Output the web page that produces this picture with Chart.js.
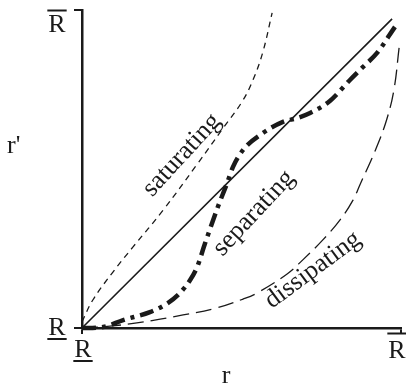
<!DOCTYPE html>
<html>
<head>
<meta charset="utf-8">
<script src="https://cdn.jsdelivr.net/npm/chart.js@4/dist/chart.umd.min.js"></script>
<style>
  html, body { margin: 0; padding: 0; background: #fff; }
  #wrap { width: 406px; height: 385px; }
</style>
</head>
<body>
<div id="wrap"><canvas id="chart" width="406" height="385"></canvas></div>
<script>
// values, 0 = R (lower bound), 1 = R-bar (upper bound)
var diagonalX = [0, 0.972];
var diagonalY = [0, 0.972];

var saturatingX = [0, 0.034, 0.097, 0.160, 0.254, 0.361, 0.442, 0.502, 0.536, 0.567, 0.596];
var saturatingY = [0.02, 0.088, 0.176, 0.255, 0.370, 0.515, 0.628, 0.712, 0.780, 0.868, 0.991];

var separatingX = [0, 0.066, 0.129, 0.213, 0.270, 0.307, 0.339, 0.361, 0.386, 0.426, 0.455, 0.473, 0.505, 0.567, 0.630, 0.674, 0.715, 0.777, 0.840, 0.881, 0.925, 0.981];
var separatingY = [0, 0.003, 0.025, 0.050, 0.079, 0.110, 0.151, 0.192, 0.267, 0.381, 0.456, 0.506, 0.560, 0.613, 0.648, 0.660, 0.676, 0.714, 0.780, 0.821, 0.865, 0.947];

var dissipatingX = [0, 0.088, 0.172, 0.245, 0.317, 0.411, 0.505, 0.549, 0.643, 0.693, 0.755, 0.809, 0.850, 0.871, 0.920, 0.955, 0.978, 0.994];
var dissipatingY = [0, 0.006, 0.016, 0.028, 0.041, 0.060, 0.091, 0.110, 0.170, 0.215, 0.277, 0.340, 0.403, 0.450, 0.560, 0.655, 0.750, 0.881];

var tickValues = [0, 1];
var xTickLabels = ['R', 'R'];   // underlined, overlined
var yTickLabels = ['R', 'R'];   // underlined, overlined
var tickMarks = ['under', 'over'];

var curveNames = ['saturating', 'separating', 'dissipating'];
var curveLabelX = [0.313, 0.539, 0.724];
var curveLabelY = [0.544, 0.361, 0.182];
var curveLabelAngle = [-47.5, -47, -36.5];

var xTitle = 'r';
var yTitle = "r'";

function pts(xs, ys) {
  return xs.map(function(x, i) { return { x: x, y: ys[i] }; });
}

var ink = '#1a1a1a';
var serif = '"Liberation Serif", "DejaVu Serif", serif';

var textPlugin = {
  id: 'textPlugin',
  afterDraw: function(chart) {
    var ctx = chart.ctx;
    var xs = chart.scales.x, ys = chart.scales.y;
    ctx.save();
    ctx.fillStyle = ink;
    ctx.strokeStyle = ink;
    ctx.lineWidth = 2;
    ctx.font = '26px ' + serif;
    ctx.textAlign = 'center';
    ctx.textBaseline = 'alphabetic';

    // y tick labels
    tickValues.forEach(function(v, i) {
      var py = ys.getPixelForValue(v);
      var cx = xs.left - 25;
      var base = tickMarks[i] === 'over' ? py + 22 : py + 7;
      ctx.fillText(yTickLabels[i], cx, base);
      var w = ctx.measureText(yTickLabels[i]).width;
      var ly = tickMarks[i] === 'over' ? base - 21.5 : base + 4;
      ctx.beginPath();
      ctx.moveTo(cx - w / 2 - 1, ly);
      ctx.lineTo(cx + w / 2 + 1, ly);
      ctx.stroke();
    });

    // x tick labels
    tickValues.forEach(function(v, i) {
      var px = xs.getPixelForValue(v);
      var cx = tickMarks[i] === 'over' ? px - 4 : px + 1;
      var base = tickMarks[i] === 'over' ? ys.bottom + 30 : ys.bottom + 29;
      ctx.fillText(xTickLabels[i], cx, base);
      var w = ctx.measureText(xTickLabels[i]).width;
      var ly = tickMarks[i] === 'over' ? base - 24.5 : base + 4;
      ctx.beginPath();
      ctx.moveTo(cx - w / 2 - 1, ly);
      ctx.lineTo(cx + w / 2 + 1, ly);
      ctx.stroke();
    });

    // axis titles
    ctx.textAlign = 'left';
    ctx.fillText(yTitle, 7, 153);
    ctx.textAlign = 'center';
    ctx.fillText(xTitle, 226, 383);

    // curve names
    curveNames.forEach(function(name, i) {
      ctx.save();
      ctx.translate(xs.getPixelForValue(curveLabelX[i]), ys.getPixelForValue(curveLabelY[i]));
      ctx.rotate(curveLabelAngle[i] * Math.PI / 180);
      ctx.textBaseline = 'middle';
      ctx.fillText(name, 0, 0);
      ctx.restore();
    });
    ctx.restore();
  }
};

var chart = new Chart('chart', {
  type: 'line',
  data: {
    datasets: [
      {
        label: 'diagonal',
        data: pts(diagonalX, diagonalY),
        borderColor: ink,
        borderWidth: 1.6,
        tension: 0
      },
      {
        label: 'saturating',
        data: pts(saturatingX, saturatingY),
        borderColor: ink,
        borderWidth: 1.3,
        borderDash: [6, 5],
        tension: 0.4
      },
      {
        label: 'separating',
        data: pts(separatingX, separatingY),
        borderColor: ink,
        borderWidth: 4.5,
        borderDash: [14, 6, 4, 6],
        borderCapStyle: 'butt',
        cubicInterpolationMode: 'monotone'
      },
      {
        label: 'dissipating',
        data: pts(dissipatingX, dissipatingY),
        borderColor: ink,
        borderWidth: 1.3,
        borderDash: [16, 7],
        tension: 0.4
      }
    ]
  },
  options: {
    responsive: false,
    animation: false,
    clip: false,
    layout: { padding: { left: 74, top: 10, right: 5, bottom: 51 } },
    elements: { point: { radius: 0 } },
    plugins: { legend: { display: false }, tooltip: { enabled: false } },
    scales: {
      x: {
        type: 'linear',
        min: 0,
        max: 1,
        afterBuildTicks: function(scale) {
          scale.ticks = tickValues.map(function(v) { return { value: v }; });
        },
        ticks: { display: false },
        grid: { drawOnChartArea: false, drawTicks: true, tickLength: 6, color: ink, lineWidth: 2 },
        border: { display: true, color: ink, width: 2.5 }
      },
      y: {
        type: 'linear',
        min: 0,
        max: 1,
        afterBuildTicks: function(scale) {
          scale.ticks = tickValues.map(function(v) { return { value: v }; });
        },
        ticks: { display: false },
        grid: { drawOnChartArea: false, drawTicks: true, tickLength: 8, color: ink, lineWidth: 2 },
        border: { display: true, color: ink, width: 2.5 }
      }
    }
  },
  plugins: [textPlugin]
});
</script>
</body>
</html>
